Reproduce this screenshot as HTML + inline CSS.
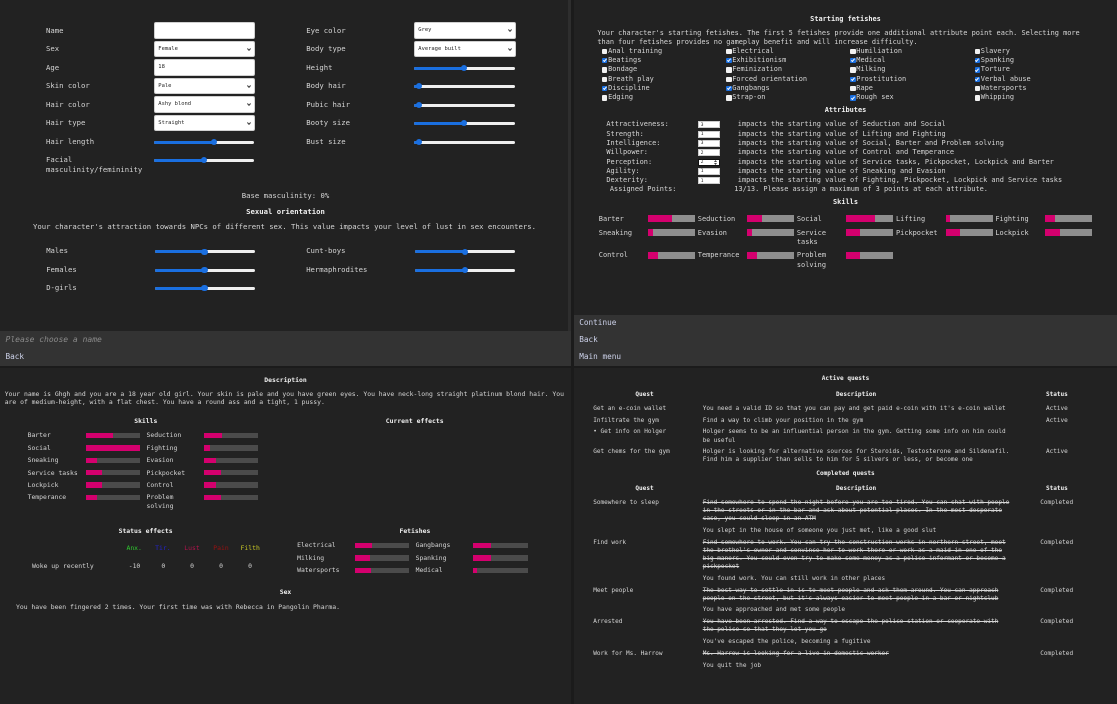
<!DOCTYPE html>
<html><head><meta charset="utf-8">
<style>
*{margin:0;padding:0;box-sizing:border-box}
html,body{width:1117px;height:704px;overflow:hidden;background:#1b1b1b}
body{position:relative;font-family:"DejaVu Sans Mono","Liberation Mono",monospace;color:#d6d6d6}
.p{position:absolute;background:#222}
.f{position:absolute;background:#333}
.t{position:absolute;white-space:pre;line-height:10px;height:10px;margin-top:-0.5px}
.c{position:absolute;white-space:pre;line-height:10px;height:10px;transform:translateX(-50%);margin-top:-0.5px}
.b{font-weight:bold;color:#f0f0f0}
.q1{font-size:7.27px}
.q2{font-size:6.92px}
.q3{font-size:6.42px}
.q4{font-size:6.07px}
.ft{font-size:7.7px;color:#cdd2ea}
.s{text-decoration:line-through}
.sel{position:absolute;background:#fff;border:1px solid #d0d0d0;border-radius:2px;height:16.4px}
.sel span{position:absolute;left:3px;top:2.2px;line-height:10px;font-size:5.45px;color:#222;white-space:pre}
.sel svg{position:absolute;right:2.5px;top:6.2px}
.tr{position:absolute;height:3px;background:#efefef;border-radius:1.5px;overflow:hidden}
.tr i{display:block;height:100%;background:#1a6fe0}
.th{position:absolute;width:6.4px;height:6.4px;border-radius:50%;background:#1a6fe0}
.cb{position:absolute;width:5.5px;height:5.5px;background:#f2f2f2;border-radius:1px}
.cb.k{background:#1a6fe0}
.cb.k::after{content:"";position:absolute;left:1.9px;top:0.6px;width:1.4px;height:2.8px;border-right:1px solid #fff;border-bottom:1px solid #fff;transform:rotate(40deg)}
.ai{position:absolute;width:21.5px;height:7px;background:#fff;border:0.5px solid #ccc}
.ai span{position:absolute;left:1.5px;top:-1.6px;font-size:4.5px;line-height:10px;color:#222}
.bar{position:absolute;overflow:hidden}
.bar i{display:block;height:100%;background:#d4006e}
.g1{background:#8e8e8e;height:7px}
.g2{background:#4b4b4b;height:5.7px}
</style></head><body>

<!-- panels -->
<div class="p" style="left:0;top:0;width:571px;height:366px"></div>
<div class="p" style="left:568px;top:0;width:3px;height:331px;background:#2e2e2e"></div>
<div class="f" style="left:0;top:331px;width:571px;height:35px"></div>
<div class="p" style="left:574px;top:0;width:543px;height:366px"></div>
<div class="f" style="left:574px;top:315px;width:543px;height:51px"></div>
<div class="p" style="left:0;top:368px;width:571px;height:336px"></div>
<div class="p" style="left:574px;top:368px;width:543px;height:336px"></div>

<!-- ============ TOP LEFT ============ -->
<div class="t q1" style="left:46px;top:26px">Name</div>
<div class="t q1" style="left:46px;top:44.7px">Sex</div>
<div class="t q1" style="left:46px;top:63.3px">Age</div>
<div class="t q1" style="left:46px;top:81.7px">Skin color</div>
<div class="t q1" style="left:46px;top:100px">Hair color</div>
<div class="t q1" style="left:46px;top:118.7px">Hair type</div>
<div class="t q1" style="left:46px;top:137px">Hair length</div>
<div class="t q1" style="left:46px;top:155.3px">Facial</div>
<div class="t q1" style="left:46px;top:165.7px">masculinity/femininity</div>

<div class="sel" style="left:154.3px;top:22.3px;width:100.7px"></div>
<div class="sel" style="left:154.3px;top:40.7px;width:100.7px"><span>Female</span><svg width="4" height="3"><polyline points="0.4,0.5 2,2.3 3.6,0.5" fill="none" stroke="#333" stroke-width="1"/></svg></div>
<div class="sel" style="left:154.3px;top:59.3px;width:100.7px"><span>18</span></div>
<div class="sel" style="left:154.3px;top:77.7px;width:100.7px"><span>Pale</span><svg width="4" height="3"><polyline points="0.4,0.5 2,2.3 3.6,0.5" fill="none" stroke="#333" stroke-width="1"/></svg></div>
<div class="sel" style="left:154.3px;top:96.3px;width:100.7px"><span>Ashy blond</span><svg width="4" height="3"><polyline points="0.4,0.5 2,2.3 3.6,0.5" fill="none" stroke="#333" stroke-width="1"/></svg></div>
<div class="sel" style="left:154.3px;top:114.7px;width:100.7px"><span>Straight</span><svg width="4" height="3"><polyline points="0.4,0.5 2,2.3 3.6,0.5" fill="none" stroke="#333" stroke-width="1"/></svg></div>

<div class="tr" style="left:154.3px;top:140.5px;width:100px"><i style="width:59.4px"></i></div><div class="th" style="left:210.5px;top:138.8px"></div>
<div class="tr" style="left:154.3px;top:158.8px;width:100px"><i style="width:50px"></i></div><div class="th" style="left:201.1px;top:157.1px"></div>

<div class="t q1" style="left:306.3px;top:26px">Eye color</div>
<div class="t q1" style="left:306.3px;top:44.7px">Body type</div>
<div class="t q1" style="left:306.3px;top:63px">Height</div>
<div class="t q1" style="left:306.3px;top:81.3px">Body hair</div>
<div class="t q1" style="left:306.3px;top:100px">Pubic hair</div>
<div class="t q1" style="left:306.3px;top:118.3px">Booty size</div>
<div class="t q1" style="left:306.3px;top:137px">Bust size</div>

<div class="sel" style="left:414.3px;top:22.3px;width:101.4px"><span>Grey</span><svg width="4" height="3"><polyline points="0.4,0.5 2,2.3 3.6,0.5" fill="none" stroke="#333" stroke-width="1"/></svg></div>
<div class="sel" style="left:414.3px;top:40.7px;width:101.4px"><span>Average built</span><svg width="4" height="3"><polyline points="0.4,0.5 2,2.3 3.6,0.5" fill="none" stroke="#333" stroke-width="1"/></svg></div>

<div class="tr" style="left:414px;top:66.5px;width:101px"><i style="width:50.3px"></i></div><div class="th" style="left:461.1px;top:64.8px"></div>
<div class="tr" style="left:414px;top:84.8px;width:101px"><i style="width:5.3px"></i></div><div class="th" style="left:416.1px;top:83.1px"></div>
<div class="tr" style="left:414px;top:103.5px;width:101px"><i style="width:5.3px"></i></div><div class="th" style="left:416.1px;top:101.8px"></div>
<div class="tr" style="left:414px;top:121.8px;width:101px"><i style="width:50.3px"></i></div><div class="th" style="left:461.1px;top:120.1px"></div>
<div class="tr" style="left:414px;top:140.5px;width:101px"><i style="width:5.3px"></i></div><div class="th" style="left:416.1px;top:138.8px"></div>

<div class="c q1" style="left:285.5px;top:191px">Base masculinity: 0%</div>
<div class="c q1 b" style="left:285.5px;top:207.3px">Sexual orientation</div>
<div class="c q1" style="left:284.5px;top:222px">Your character's attraction towards NPCs of different sex. This value impacts your level of lust in sex encounters.</div>

<div class="t q1" style="left:46.2px;top:246.7px">Males</div>
<div class="t q1" style="left:46.2px;top:265px">Females</div>
<div class="t q1" style="left:46.2px;top:283.3px">D-girls</div>
<div class="t q1" style="left:306.2px;top:246.7px">Cunt-boys</div>
<div class="t q1" style="left:306.2px;top:265px">Hermaphrodites</div>

<div class="tr" style="left:154.5px;top:250.2px;width:100px"><i style="width:49.9px"></i></div><div class="th" style="left:201.2px;top:248.5px"></div>
<div class="tr" style="left:154.5px;top:268.5px;width:100px"><i style="width:49.9px"></i></div><div class="th" style="left:201.2px;top:266.8px"></div>
<div class="tr" style="left:154.5px;top:286.8px;width:100px"><i style="width:49.9px"></i></div><div class="th" style="left:201.2px;top:285.1px"></div>
<div class="tr" style="left:414.5px;top:250.2px;width:100.5px"><i style="width:50.2px"></i></div><div class="th" style="left:461.5px;top:248.5px"></div>
<div class="tr" style="left:414.5px;top:268.5px;width:100.5px"><i style="width:50.2px"></i></div><div class="th" style="left:461.5px;top:266.8px"></div>

<div class="t" style="left:5.5px;top:335px;font-size:8px;font-style:italic;color:#8a8a8a">Please choose a name</div>
<div class="t ft" style="left:5.5px;top:352.3px">Back</div>

<!-- ============ TOP RIGHT ============ -->
<div class="c q2 b" style="left:845.5px;top:14px">Starting fetishes</div>
<div class="t q2" style="left:597.4px;top:28.3px">Your character's starting fetishes. The first 5 fetishes provide one additional attribute point each. Selecting more</div>
<div class="t q2" style="left:597.4px;top:37.7px">than four fetishes provides no gameplay benefit and will increase difficulty.</div>

<!-- checkboxes col1 -->
<div class="cb" style="left:601.9px;top:48.5px"></div><div class="t q2" style="left:608.1px;top:46.3px">Anal training</div>
<div class="cb k" style="left:601.9px;top:57.8px"></div><div class="t q2" style="left:608.1px;top:55.6px">Beatings</div>
<div class="cb" style="left:601.9px;top:67.1px"></div><div class="t q2" style="left:608.1px;top:64.9px">Bondage</div>
<div class="cb" style="left:601.9px;top:76.5px"></div><div class="t q2" style="left:608.1px;top:74.3px">Breath play</div>
<div class="cb k" style="left:601.9px;top:85.8px"></div><div class="t q2" style="left:608.1px;top:83.6px">Discipline</div>
<div class="cb" style="left:601.9px;top:95.1px"></div><div class="t q2" style="left:608.1px;top:92.9px">Edging</div>
<!-- col2 -->
<div class="cb" style="left:726px;top:48.5px"></div><div class="t q2" style="left:732.2px;top:46.3px">Electrical</div>
<div class="cb k" style="left:726px;top:57.8px"></div><div class="t q2" style="left:732.2px;top:55.6px">Exhibitionism</div>
<div class="cb" style="left:726px;top:67.1px"></div><div class="t q2" style="left:732.2px;top:64.9px">Feminization</div>
<div class="cb" style="left:726px;top:76.5px"></div><div class="t q2" style="left:732.2px;top:74.3px">Forced orientation</div>
<div class="cb k" style="left:726px;top:85.8px"></div><div class="t q2" style="left:732.2px;top:83.6px">Gangbangs</div>
<div class="cb" style="left:726px;top:95.1px"></div><div class="t q2" style="left:732.2px;top:92.9px">Strap-on</div>
<!-- col3 -->
<div class="cb" style="left:850px;top:48.5px"></div><div class="t q2" style="left:856.3px;top:46.3px">Humiliation</div>
<div class="cb k" style="left:850px;top:57.8px"></div><div class="t q2" style="left:856.3px;top:55.6px">Medical</div>
<div class="cb" style="left:850px;top:67.1px"></div><div class="t q2" style="left:856.3px;top:64.9px">Milking</div>
<div class="cb k" style="left:850px;top:76.5px"></div><div class="t q2" style="left:856.3px;top:74.3px">Prostitution</div>
<div class="cb" style="left:850px;top:85.8px"></div><div class="t q2" style="left:856.3px;top:83.6px">Rape</div>
<div class="cb k" style="left:850px;top:95.1px"></div><div class="t q2" style="left:856.3px;top:92.9px">Rough sex</div>
<!-- col4 -->
<div class="cb" style="left:974.5px;top:48.5px"></div><div class="t q2" style="left:980.8px;top:46.3px">Slavery</div>
<div class="cb k" style="left:974.5px;top:57.8px"></div><div class="t q2" style="left:980.8px;top:55.6px">Spanking</div>
<div class="cb k" style="left:974.5px;top:67.1px"></div><div class="t q2" style="left:980.8px;top:64.9px">Torture</div>
<div class="cb k" style="left:974.5px;top:76.5px"></div><div class="t q2" style="left:980.8px;top:74.3px">Verbal abuse</div>
<div class="cb" style="left:974.5px;top:85.8px"></div><div class="t q2" style="left:980.8px;top:83.6px">Watersports</div>
<div class="cb" style="left:974.5px;top:95.1px"></div><div class="t q2" style="left:980.8px;top:92.9px">Whipping</div>

<div class="c q2 b" style="left:845.5px;top:105px">Attributes</div>

<div class="t q2" style="left:606.4px;top:119.7px">Attractiveness:</div>
<div class="t q2" style="left:606.4px;top:129px">Strength:</div>
<div class="t q2" style="left:606.4px;top:138.3px">Intelligence:</div>
<div class="t q2" style="left:606.4px;top:147.7px">Willpower:</div>
<div class="t q2" style="left:606.4px;top:157px">Perception:</div>
<div class="t q2" style="left:606.4px;top:166.3px">Agility:</div>
<div class="t q2" style="left:606.4px;top:175.7px">Dexterity:</div>

<div class="ai" style="left:698.2px;top:121.2px"><span>3</span></div>
<div class="ai" style="left:698.2px;top:130.5px"><span>1</span></div>
<div class="ai" style="left:698.2px;top:139.8px"><span>3</span></div>
<div class="ai" style="left:698.2px;top:149.2px"><span>2</span></div>
<div class="ai" style="left:698.2px;top:158.5px;border:1px solid #111"><span>2</span><svg style="position:absolute;right:1.5px;top:0.6px" width="3" height="5"><polygon points="1.5,0 3,2 0,2" fill="#444"/><polygon points="0,3 3,3 1.5,5" fill="#444"/></svg></div>
<div class="ai" style="left:698.2px;top:167.8px"><span>1</span></div>
<div class="ai" style="left:698.2px;top:177.2px"><span>1</span></div>

<div class="t q2" style="left:737.8px;top:119.7px">impacts the starting value of Seduction and Social</div>
<div class="t q2" style="left:737.8px;top:129px">impacts the starting value of Lifting and Fighting</div>
<div class="t q2" style="left:737.8px;top:138.3px">impacts the starting value of Social, Barter and Problem solving</div>
<div class="t q2" style="left:737.8px;top:147.7px">impacts the starting value of Control and Temperance</div>
<div class="t q2" style="left:737.8px;top:157px">impacts the starting value of Service tasks, Pickpocket, Lockpick and Barter</div>
<div class="t q2" style="left:737.8px;top:166.3px">impacts the starting value of Sneaking and Evasion</div>
<div class="t q2" style="left:737.8px;top:175.7px">impacts the starting value of Fighting, Pickpocket, Lockpick and Service tasks</div>

<div class="t q2" style="left:609.9px;top:184.3px">Assigned Points:</div>
<div class="t q2" style="left:734.3px;top:184.3px">13/13. Please assign a maximum of 3 points at each attribute.</div>

<div class="c q2 b" style="left:845.5px;top:197.3px">Skills</div>

<!-- TR skills row1 -->
<div class="t q2" style="left:598.8px;top:214.7px">Barter</div>
<div class="bar g1" style="left:648.1px;top:215.3px;width:47.3px"><i style="width:51%"></i></div>
<div class="t q2" style="left:697.8px;top:214.7px">Seduction</div>
<div class="bar g1" style="left:747.2px;top:215.3px;width:47.3px"><i style="width:31%"></i></div>
<div class="t q2" style="left:796.9px;top:214.7px">Social</div>
<div class="bar g1" style="left:846.2px;top:215.3px;width:47.3px"><i style="width:61%"></i></div>
<div class="t q2" style="left:896px;top:214.7px">Lifting</div>
<div class="bar g1" style="left:945.7px;top:215.3px;width:47.3px"><i style="width:10%"></i></div>
<div class="t q2" style="left:995.4px;top:214.7px">Fighting</div>
<div class="bar g1" style="left:1045px;top:215.3px;width:47.3px"><i style="width:21%"></i></div>
<!-- row2 -->
<div class="t q2" style="left:598.8px;top:228px">Sneaking</div>
<div class="bar g1" style="left:648.1px;top:229px;width:47.3px"><i style="width:10%"></i></div>
<div class="t q2" style="left:697.8px;top:228px">Evasion</div>
<div class="bar g1" style="left:747.2px;top:229px;width:47.3px"><i style="width:11%"></i></div>
<div class="t q2" style="left:796.9px;top:228px">Service</div>
<div class="t q2" style="left:796.9px;top:237.3px">tasks</div>
<div class="bar g1" style="left:846.2px;top:229px;width:47.3px"><i style="width:30%"></i></div>
<div class="t q2" style="left:896px;top:228px">Pickpocket</div>
<div class="bar g1" style="left:945.7px;top:229px;width:47.3px"><i style="width:30%"></i></div>
<div class="t q2" style="left:995.4px;top:228px">Lockpick</div>
<div class="bar g1" style="left:1045px;top:229px;width:47.3px"><i style="width:31%"></i></div>
<!-- row3 -->
<div class="t q2" style="left:598.8px;top:250.7px">Control</div>
<div class="bar g1" style="left:648.1px;top:251.7px;width:47.3px"><i style="width:21%"></i></div>
<div class="t q2" style="left:697.8px;top:250.7px">Temperance</div>
<div class="bar g1" style="left:747.2px;top:251.7px;width:47.3px"><i style="width:21%"></i></div>
<div class="t q2" style="left:796.9px;top:250.7px">Problem</div>
<div class="t q2" style="left:796.9px;top:260px">solving</div>
<div class="bar g1" style="left:846.2px;top:251.7px;width:47.3px"><i style="width:30%"></i></div>

<div class="t ft" style="left:579.3px;top:318.7px">Continue</div>
<div class="t ft" style="left:579.3px;top:335.3px">Back</div>
<div class="t ft" style="left:579.3px;top:352px">Main menu</div>

<!-- ============ BOTTOM LEFT ============ -->
<div class="c q3 b" style="left:285.5px;top:375.7px">Description</div>
<div class="t q3" style="left:4.7px;top:389px">Your name is Ghgh and you are a 18 year old girl. Your skin is pale and you have green eyes. You have neck-long straight platinum blond hair. You</div>
<div class="t q3" style="left:4.7px;top:397.7px">are of medium-height, with a flat chest. You have a round ass and a tight, 1 pussy.</div>

<div class="c q3 b" style="left:145.8px;top:416px">Skills</div>
<div class="c q3 b" style="left:414.7px;top:416px">Current effects</div>

<div class="t q3" style="left:27.6px;top:430.7px">Barter</div>
<div class="bar g2" style="left:85.8px;top:432.5px;width:53.8px"><i style="width:51%"></i></div>
<div class="t q3" style="left:146.5px;top:430.7px">Seduction</div>
<div class="bar g2" style="left:204.4px;top:432.5px;width:54.1px"><i style="width:32%"></i></div>

<div class="t q3" style="left:27.6px;top:443.3px">Social</div>
<div class="bar g2" style="left:85.8px;top:445.1px;width:53.8px"><i style="width:100%"></i></div>
<div class="t q3" style="left:146.5px;top:443.3px">Fighting</div>
<div class="bar g2" style="left:204.4px;top:445.1px;width:54.1px"><i style="width:11%"></i></div>

<div class="t q3" style="left:27.6px;top:455.7px">Sneaking</div>
<div class="bar g2" style="left:85.8px;top:457.5px;width:53.8px"><i style="width:20%"></i></div>
<div class="t q3" style="left:146.5px;top:455.7px">Evasion</div>
<div class="bar g2" style="left:204.4px;top:457.5px;width:54.1px"><i style="width:21%"></i></div>

<div class="t q3" style="left:27.6px;top:468px">Service tasks</div>
<div class="bar g2" style="left:85.8px;top:469.8px;width:53.8px"><i style="width:30%"></i></div>
<div class="t q3" style="left:146.5px;top:468px">Pickpocket</div>
<div class="bar g2" style="left:204.4px;top:469.8px;width:54.1px"><i style="width:31%"></i></div>

<div class="t q3" style="left:27.6px;top:480.3px">Lockpick</div>
<div class="bar g2" style="left:85.8px;top:482.1px;width:53.8px"><i style="width:30%"></i></div>
<div class="t q3" style="left:146.5px;top:480.3px">Control</div>
<div class="bar g2" style="left:204.4px;top:482.1px;width:54.1px"><i style="width:21%"></i></div>

<div class="t q3" style="left:27.6px;top:492.7px">Temperance</div>
<div class="bar g2" style="left:85.8px;top:494.5px;width:53.8px"><i style="width:20%"></i></div>
<div class="t q3" style="left:146.5px;top:492.7px">Problem</div>
<div class="t q3" style="left:146.5px;top:501px">solving</div>
<div class="bar g2" style="left:204.4px;top:494.5px;width:54.1px"><i style="width:31%"></i></div>

<div class="c q3 b" style="left:145.6px;top:526px">Status effects</div>
<div class="c q3 b" style="left:414.9px;top:526px">Fetishes</div>

<div class="c q3" style="left:134.2px;top:543.7px;color:#2fc82f">Anx.</div>
<div class="c q3" style="left:162.9px;top:543.7px;color:#2424d0">Tir.</div>
<div class="c q3" style="left:192px;top:543.7px;color:#b0144c">Lust</div>
<div class="c q3" style="left:221px;top:543.7px;color:#9a1010">Pain</div>
<div class="c q3" style="left:250.2px;top:543.7px;color:#c6c626">Filth</div>

<div class="t q3" style="left:32px;top:561px">Woke up recently</div>
<div class="c q3" style="left:134.5px;top:561px">-10</div>
<div class="c q3" style="left:163.3px;top:561px">0</div>
<div class="c q3" style="left:192px;top:561px">0</div>
<div class="c q3" style="left:221px;top:561px">0</div>
<div class="c q3" style="left:250px;top:561px">0</div>

<div class="t q3" style="left:297.1px;top:540.7px">Electrical</div>
<div class="bar g2" style="left:355.3px;top:542.5px;width:53.8px"><i style="width:31%"></i></div>
<div class="t q3" style="left:415.6px;top:540.7px">Gangbangs</div>
<div class="bar g2" style="left:473.1px;top:542.5px;width:54.5px"><i style="width:32%"></i></div>

<div class="t q3" style="left:297.1px;top:553.3px">Milking</div>
<div class="bar g2" style="left:355.3px;top:555.1px;width:53.8px"><i style="width:28%"></i></div>
<div class="t q3" style="left:415.6px;top:553.3px">Spanking</div>
<div class="bar g2" style="left:473.1px;top:555.1px;width:54.5px"><i style="width:32%"></i></div>

<div class="t q3" style="left:297.1px;top:565.7px">Watersports</div>
<div class="bar g2" style="left:355.3px;top:567.5px;width:53.8px"><i style="width:30%"></i></div>
<div class="t q3" style="left:415.6px;top:565.7px">Medical</div>
<div class="bar g2" style="left:473.1px;top:567.5px;width:54.5px"><i style="width:8%"></i></div>

<div class="c q3 b" style="left:285.5px;top:587.7px">Sex</div>
<div class="t q3" style="left:16px;top:602.3px">You have been fingered 2 times. Your first time was with Rebecca in Pangolin Pharma.</div>

<!-- ============ BOTTOM RIGHT ============ -->
<div class="c q4 b" style="left:845.5px;top:374.7px">Active quests</div>
<div class="c q4 b" style="left:644.5px;top:390.3px">Quest</div>
<div class="c q4 b" style="left:856.1px;top:390.3px">Description</div>
<div class="c q4 b" style="left:1056.9px;top:390.3px">Status</div>

<div class="t q4" style="left:593.2px;top:404px">Get an e-coin wallet</div>
<div class="t q4" style="left:702.7px;top:404px">You need a valid ID so that you can pay and get paid e-coin with it's e-coin wallet</div>
<div class="c q4" style="left:1056.9px;top:404px">Active</div>

<div class="t q4" style="left:593.2px;top:416px">Infiltrate the gym</div>
<div class="t q4" style="left:702.7px;top:416px">Find a way to climb your position in the gym</div>
<div class="c q4" style="left:1056.9px;top:416px">Active</div>

<div class="t q4" style="left:593.2px;top:427.7px">• Get info on Holger</div>
<div class="t q4" style="left:702.7px;top:427.7px">Holger seems to be an influential person in the gym. Getting some info on him could</div>
<div class="t q4" style="left:702.7px;top:436px">be useful</div>

<div class="t q4" style="left:593.2px;top:447.7px">Get chems for the gym</div>
<div class="t q4" style="left:702.7px;top:447.7px">Holger is looking for alternative sources for Steroids, Testosterone and Sildenafil.</div>
<div class="t q4" style="left:702.7px;top:455.7px">Find him a supplier than sells to him for 5 silvers or less, or become one</div>
<div class="c q4" style="left:1056.9px;top:447.7px">Active</div>

<div class="c q4 b" style="left:845.5px;top:469px">Completed quests</div>
<div class="c q4 b" style="left:644.5px;top:484.3px">Quest</div>
<div class="c q4 b" style="left:856.1px;top:484.3px">Description</div>
<div class="c q4 b" style="left:1056.9px;top:484.3px">Status</div>

<div class="t q4" style="left:593.2px;top:498px">Somewhere to sleep</div>
<div class="t q4 s" style="left:702.7px;top:498px">Find somewhere to spend the night before you are too tired. You can chat with people</div>
<div class="t q4 s" style="left:702.7px;top:506.3px">in the streets or in the bar and ask about potential places. In the most desperate</div>
<div class="t q4 s" style="left:702.7px;top:514.7px">case, you could sleep in an ATM</div>
<div class="t q4" style="left:702.7px;top:526.3px">You slept in the house of someone you just met, like a good slut</div>
<div class="c q4" style="left:1056.7px;top:498px">Completed</div>

<div class="t q4" style="left:593.2px;top:538px">Find work</div>
<div class="t q4 s" style="left:702.7px;top:538px">Find somewhere to work. You can try the construction works in northern street, meet</div>
<div class="t q4 s" style="left:702.7px;top:546px">the brothel's owner and convince her to work there or work as a maid in one of the</div>
<div class="t q4 s" style="left:702.7px;top:554.3px">big manors. You could even try to make some money as a police informant or become a</div>
<div class="t q4 s" style="left:702.7px;top:562.7px">pickpocket</div>
<div class="t q4" style="left:702.7px;top:574px">You found work. You can still work in other places</div>
<div class="c q4" style="left:1056.7px;top:538px">Completed</div>

<div class="t q4" style="left:593.2px;top:586px">Meet people</div>
<div class="t q4 s" style="left:702.7px;top:586px">The best way to settle in is to meet people and ask them around. You can approach</div>
<div class="t q4 s" style="left:702.7px;top:594px">people on the street, but it's always easier to meet people in a bar or nightclub</div>
<div class="t q4" style="left:702.7px;top:605.7px">You have approached and met some people</div>
<div class="c q4" style="left:1056.7px;top:586px">Completed</div>

<div class="t q4" style="left:593.2px;top:617.7px">Arrested</div>
<div class="t q4 s" style="left:702.7px;top:617.7px">You have been arrested. Find a way to escape the police station or cooperate with</div>
<div class="t q4 s" style="left:702.7px;top:625.7px">the police so that they let you go</div>
<div class="t q4" style="left:702.7px;top:637.7px">You've escaped the police, becoming a fugitive</div>
<div class="c q4" style="left:1056.7px;top:617.7px">Completed</div>

<div class="t q4" style="left:593.2px;top:649.3px">Work for Ms. Harrow</div>
<div class="t q4 s" style="left:702.7px;top:649.3px">Ms. Harrow is looking for a live-in domestic worker</div>
<div class="t q4" style="left:702.7px;top:661px">You quit the job</div>
<div class="c q4" style="left:1056.7px;top:649.3px">Completed</div>

</body></html>
